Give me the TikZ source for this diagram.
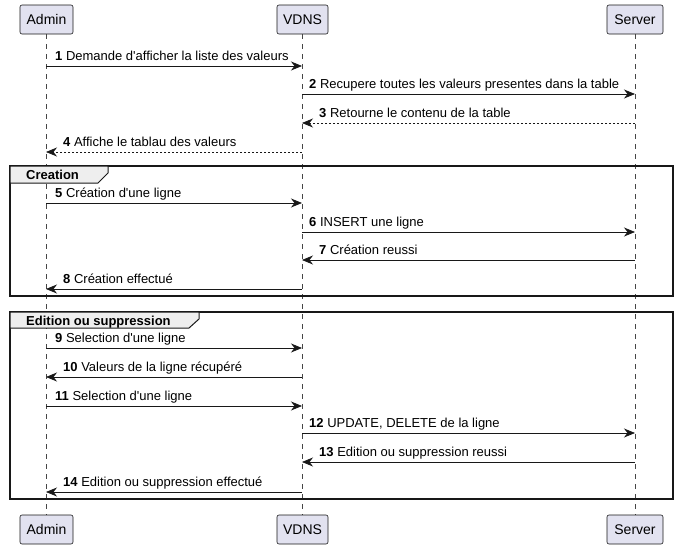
\documentclass[tikz,border=0pt]{standalone}
\usepackage{fontspec}
\setmainfont{Liberation Sans}
\usetikzlibrary{arrows.meta}
\definecolor{partfill}{HTML}{E2E2F0}
\definecolor{ink}{HTML}{181818}
\definecolor{tabfill}{HTML}{EEEEEE}
\newcommand{\apo}{\textquotesingle}
\tikzset{
  part/.style={draw=ink, fill=partfill, rounded corners=2pt, line width=0.6pt,
    minimum height=29pt, inner xsep=5pt, font=\fontsize{14}{16}\selectfont, text=black},
  life/.style={draw=ink!80, dash pattern=on 5pt off 5pt, line width=0.5pt},
  msg/.style={draw=ink, line width=0.8pt, -{Stealth[length=11pt,width=9pt,inset=3.5pt]}},
  rmsg/.style={msg, dash pattern=on 2pt off 2pt},
  lbl/.style={anchor=base west, inner sep=0pt, font=\fontsize{13}{15}\selectfont, text=black},
  frame/.style={draw=ink, line width=1.5pt},
  tab/.style={draw=ink, fill=tabfill, line width=1pt},
  tablbl/.style={anchor=base west, inner sep=0pt, font=\fontsize{13}{15}\selectfont\bfseries}
}
\begin{document}
\begin{tikzpicture}[x=1pt,y=-1pt]
\useasboundingbox (0,0) rectangle (678,549);
% lifelines
\draw[life] (46,34) -- (46,515);
\draw[life] (302,34) -- (302,515);
\draw[life] (635,34) -- (635,515);
% participants
\node[part, minimum width=53pt] (adminT) at (46.5,19.5) {Admin};
\node[part, minimum width=51pt] (vdnsT) at (302.5,19.5) {VDNS};
\node[part, minimum width=56pt] (serverT) at (635,19.5) {Server};
\node[part, minimum width=53pt] (adminB) at (46.5,529.5) {Admin};
\node[part, minimum width=51pt] (vdnsB) at (302.5,529.5) {VDNS};
\node[part, minimum width=56pt] (serverB) at (635,529.5) {Server};
% frames
\draw[frame] (10,166) rectangle (673,296);
\draw[tab] (10,166) -- (108,166) -- (108,173) -- (98,183) -- (10,183) -- cycle;
\node[tablbl] (tabC) at (26,179) {Creation};
\draw[frame] (10,312) rectangle (673,499);
\draw[tab] (10,312) -- (199,312) -- (199,319) -- (189,328) -- (10,328) -- cycle;
\node[tablbl] (tabE) at (26,325) {Edition ou suppression};
% message end points
\foreach \i/\y in {1/66,2/94,3/123,4/152,5/203,6/232,7/260,8/289,9/348,10/377,11/406,12/433,13/462,14/492}{
  \coordinate (A\i) at (46,\y);
  \coordinate (V\i) at (302,\y);
  \coordinate (S\i) at (635,\y);
}
% messages
\draw[msg] (A1) -- (V1);
\node[lbl] (l1) at ([xshift=9pt,yshift=6pt]A1) {\textbf{1} Demande d\apo afficher la liste des valeurs};
\draw[msg] (V2) -- (S2);
\node[lbl] (l2) at ([xshift=7pt,yshift=6pt]V2) {\textbf{2} Recupere toutes les valeurs presentes dans la table};
\draw[rmsg] (S3) -- (V3);
\node[lbl] (l3) at ([xshift=17pt,yshift=6pt]V3) {\textbf{3} Retourne le contenu de la table};
\draw[rmsg] (V4) -- (A4);
\node[lbl] (l4) at ([xshift=17pt,yshift=6pt]A4) {\textbf{4} Affiche le tablau des valeurs};
\draw[msg] (A5) -- (V5);
\node[lbl] (l5) at ([xshift=9pt,yshift=6pt]A5) {\textbf{5} Création d\apo une ligne};
\draw[msg] (V6) -- (S6);
\node[lbl] (l6) at ([xshift=7pt,yshift=6pt]V6) {\textbf{6} INSERT une ligne};
\draw[msg] (S7) -- (V7);
\node[lbl] (l7) at ([xshift=17pt,yshift=6pt]V7) {\textbf{7} Création reussi};
\draw[msg] (V8) -- (A8);
\node[lbl] (l8) at ([xshift=17pt,yshift=6pt]A8) {\textbf{8} Création effectué};
\draw[msg] (A9) -- (V9);
\node[lbl] (l9) at ([xshift=9pt,yshift=6pt]A9) {\textbf{9} Selection d\apo une ligne};
\draw[msg] (V10) -- (A10);
\node[lbl] (l10) at ([xshift=17pt,yshift=6pt]A10) {\textbf{10} Valeurs de la ligne récupéré};
\draw[msg] (A11) -- (V11);
\node[lbl] (l11) at ([xshift=9pt,yshift=6pt]A11) {\textbf{11} Selection d\apo une ligne};
\draw[msg] (V12) -- (S12);
\node[lbl] (l12) at ([xshift=7pt,yshift=6pt]V12) {\textbf{12} UPDATE, DELETE de la ligne};
\draw[msg] (S13) -- (V13);
\node[lbl] (l13) at ([xshift=17pt,yshift=6pt]V13) {\textbf{13} Edition ou suppression reussi};
\draw[msg] (V14) -- (A14);
\node[lbl] (l14) at ([xshift=17pt,yshift=6pt]A14) {\textbf{14} Edition ou suppression effectué};
\end{tikzpicture}
\end{document}
